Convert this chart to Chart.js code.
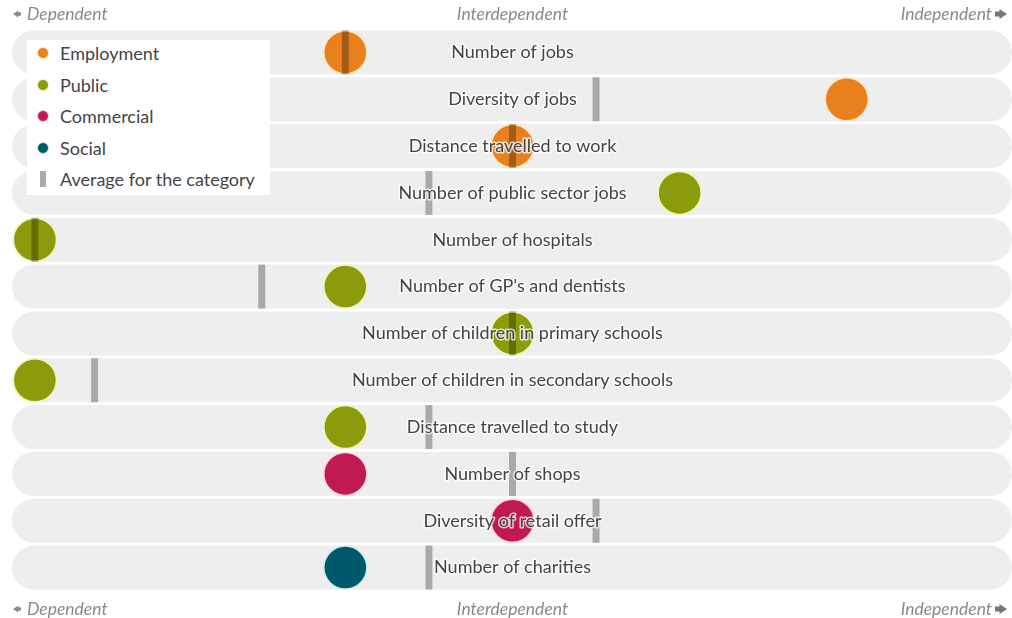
<!DOCTYPE html>
<html>
<head>
<meta charset="utf-8">
<script src="https://cdn.jsdelivr.net/npm/chart.js@4.4.1/dist/chart.umd.min.js"></script>
<style>
  html, body { margin: 0; padding: 0; background: #ffffff; }
  #wrap { position: relative; width: 1012px; height: 618px; }
  #c { position: absolute; left: 0; top: 0; }
  #legend {
    position: absolute; left: 27px; top: 40px; width: 243px; height: 155px;
    background: #ffffff; font-family: Lato, "Open Sans", sans-serif; font-size: 18px; color: #444;
  }
  .li { position: absolute; left: 0; height: 24px; line-height: 24px; white-space: nowrap; }
  .li .dot { position: absolute; left: 10px; top: 6px; width: 12px; height: 12px; border-radius: 50%; box-sizing: border-box; }
  .li .bar { position: absolute; left: 13px; top: 4px; width: 6px; height: 16px; background: #aaaaaa; }
  .li span.t { position: absolute; left: 33px; }
</style>
</head>
<body>
<div id="wrap">
  <canvas id="c" width="1012" height="618"></canvas>
  <div id="legend"></div>
</div>
<script>
// ---- Data ----
const categories = [
  "Number of jobs",
  "Diversity of jobs",
  "Distance travelled to work",
  "Number of public sector jobs",
  "Number of hospitals",
  "Number of GP's and dentists",
  "Number of children in primary schools",
  "Number of children in secondary schools",
  "Distance travelled to study",
  "Number of shops",
  "Diversity of retail offer",
  "Number of charities"
];
// group of each indicator
const groups = [
  "Employment", "Employment", "Employment",
  "Public", "Public", "Public", "Public", "Public", "Public",
  "Commercial", "Commercial",
  "Social"
];
// score on the Dependent (-1) ... Independent (+1) scale
const scores = [-0.35, 0.70, 0.00, 0.35, -1.00, -0.35, 0.00, -1.00, -0.35, -0.35, 0.00, -0.35];
// average for the category
const averages = [-0.35, 0.175, 0.00, -0.175, -1.00, -0.525, 0.00, -0.875, -0.175, 0.00, 0.175, -0.175];

const seriesNames = ["Employment", "Public", "Commercial", "Social"];
const seriesColors = ["#e8801e", "#8c9b0c", "#c01a50", "#00596a"];
const seriesBorders = ["#fde6bf", "#f3f5b8", "#fbd3e0", "#c8eef2"];
const axisLabels = ["Dependent", "Interdependent", "Independent"];
const avgLabel = "Average for the category";

const X_MIN = -1.048, X_MAX = 1.046;

// ---- Datasets ----
const bandDataset = {
  type: 'bar',
  label: 'band',
  data: categories.map(() => [X_MIN, X_MAX]),
  backgroundColor: '#eeeeee',
  borderRadius: 22,
  borderSkipped: false,
  barPercentage: 1,
  categoryPercentage: 0.94,
  order: 10
};

const pointDatasets = seriesNames.map((name, si) => ({
  type: 'scatter',
  label: name,
  data: categories.map((c, i) => groups[i] === name ? { x: scores[i], y: c } : null).filter(d => d),
  backgroundColor: seriesColors[si],
  borderColor: seriesBorders[si],
  borderWidth: 1.5,
  pointRadius: 21.5,
  pointHoverRadius: 21.5,
  order: 5
}));

const avgDataset = {
  type: 'scatter',
  label: avgLabel,
  data: categories.map((c, i) => ({ x: averages[i], y: c })),
  pointStyle: 'line',
  rotation: 90,
  pointRadius: 22,
  pointHoverRadius: 22,
  borderWidth: 7,
  borderColor: 'rgba(0,0,0,0.29)',
  backgroundColor: 'rgba(0,0,0,0.29)',
  order: 1
};

// ---- Plugins ----
const FONT = 'Lato, "Open Sans", sans-serif';
function arrow(ctx, x0, x1, y, h, dir) {
  // small block arrow; dir = -1 (left) or 1 (right)
  const head = h * 0.75;
  ctx.beginPath();
  if (dir < 0) {
    ctx.moveTo(x0, y);
    ctx.lineTo(x0 + head, y - h / 2);
    ctx.lineTo(x0 + head, y - h / 4);
    ctx.lineTo(x1, y - h / 4);
    ctx.lineTo(x1, y + h / 4);
    ctx.lineTo(x0 + head, y + h / 4);
    ctx.lineTo(x0 + head, y + h / 2);
  } else {
    ctx.moveTo(x1, y);
    ctx.lineTo(x1 - head, y - h / 2);
    ctx.lineTo(x1 - head, y - h / 4);
    ctx.lineTo(x0, y - h / 4);
    ctx.lineTo(x0, y + h / 4);
    ctx.lineTo(x1 - head, y + h / 4);
    ctx.lineTo(x1 - head, y + h / 2);
  }
  ctx.closePath();
  ctx.fill();
}
const labelPlugin = {
  id: 'rowLabels',
  afterDatasetsDraw(chart) {
    const ctx = chart.ctx;
    const xs = chart.scales.x, ys = chart.scales.y;
    const cx = xs.getPixelForValue(0);
    ctx.save();
    ctx.font = '18px ' + FONT;
    ctx.textAlign = 'center';
    ctx.textBaseline = 'middle';
    ctx.lineJoin = 'round';
    categories.forEach((c, i) => {
      const y = ys.getPixelForValue(i);
      ctx.strokeStyle = 'rgba(255,255,255,0.75)';
      ctx.lineWidth = 3;
      ctx.strokeText(c, cx, y);
      ctx.fillStyle = '#444444';
      ctx.fillText(c, cx, y);
    });
    // axis direction labels top and bottom
    const left = chart.chartArea.left;
    const right = chart.chartArea.right;
    const drawHeader = (y) => {
      ctx.fillStyle = '#8a8a8a';
      ctx.textBaseline = 'middle';
      ctx.font = 'italic 17.5px ' + FONT;
      arrow(ctx, left + 1, left + 9, y, 7, -1);
      ctx.textAlign = 'left';
      ctx.fillText(axisLabels[0], left + 15, y);
      ctx.textAlign = 'center';
      ctx.fillText(axisLabels[1], cx, y);
      ctx.textAlign = 'right';
      ctx.fillText(axisLabels[2], right - 20, y);
      ctx.fillStyle = '#777777';
      arrow(ctx, right - 17, right - 5, y, 10, 1);
    };
    drawHeader(chart.chartArea.top - 15);
    drawHeader(chart.chartArea.bottom + 18);
    ctx.restore();
  }
};

// ---- Chart ----
new Chart(document.getElementById('c'), {
  type: 'bar',
  data: {
    labels: categories,
    datasets: [bandDataset, ...pointDatasets, avgDataset]
  },
  options: {
    indexAxis: 'y',
    responsive: false,
    animation: false,
    events: [],
    layout: { autoPadding: false, padding: { left: 12, right: 0, top: 29, bottom: 27 } },
    scales: {
      x: { type: 'linear', min: X_MIN, max: X_MAX, display: false },
      y: { type: 'category', labels: categories, offset: true, display: false }
    },
    plugins: {
      legend: { display: false },
      tooltip: { enabled: false }
    }
  },
  plugins: [labelPlugin]
});

// ---- Legend (HTML) ----
const legend = document.getElementById('legend');
const items = seriesNames.map((n, i) => ({ name: n, color: seriesColors[i], border: seriesBorders[i] }));
items.push({ name: avgLabel, bar: true });
items.forEach((it, i) => {
  const d = document.createElement('div');
  d.className = 'li';
  d.style.top = (1 + i * 31.5) + 'px';
  if (it.bar) {
    d.innerHTML = '<div class="bar"></div><span class="t"></span>';
  } else {
    d.innerHTML = '<div class="dot"></div><span class="t"></span>';
    d.querySelector('.dot').style.background = it.color;
    d.querySelector('.dot').style.border = '1px solid ' + it.border;
  }
  d.querySelector('.t').textContent = it.name;
  legend.appendChild(d);
});
</script>
</body>
</html>
